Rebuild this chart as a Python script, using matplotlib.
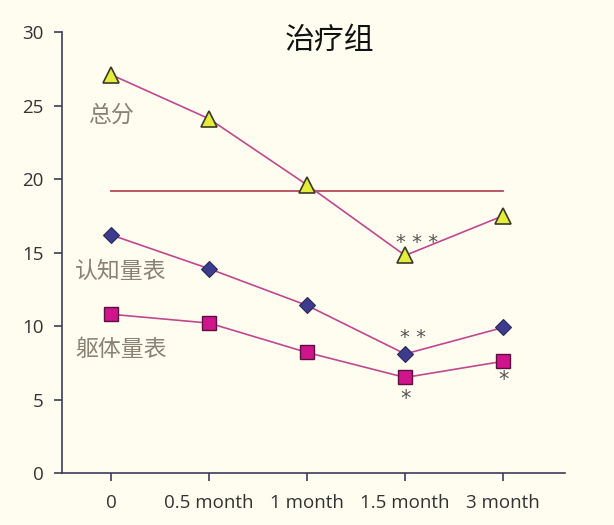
import matplotlib
matplotlib.use("Agg")
import matplotlib.pyplot as plt

plt.rcParams['font.family'] = ['Noto Sans CJK SC', 'DejaVu Sans']

categories = ["0", "0.5 month", "1 month", "1.5 month", "3 month"]
total = [27.1, 24.1, 19.6, 14.8, 17.5]
cognitive = [16.2, 13.9, 11.4, 8.1, 9.9]
somatic = [10.8, 10.2, 8.2, 6.5, 7.6]
ref_level = 19.2
yticks = [0, 5, 10, 15, 20, 25, 30]

bg = "#fefdf0"
fig = plt.figure(figsize=(6.14, 5.25), dpi=100, facecolor=bg)
ax = fig.add_axes([0.101, 0.099, 0.819, 0.840], facecolor=bg)

x = list(range(len(categories)))
line_c = "#c2478f"
ax.plot([0, 4], [ref_level, ref_level], color="#b84a5c", lw=1.3, zorder=2)
ax.plot(x, total, color=line_c, lw=1.2, marker="^", ms=11, mfc="#e4ee3a",
        mec="#3a3a2a", mew=1.2, zorder=3)
ax.plot(x, cognitive, color=line_c, lw=1.2, marker="D", ms=8, mfc="#3d3b8e",
        mec="#2a2a5a", mew=0.8, zorder=3)
ax.plot(x, somatic, color=line_c, lw=1.2, marker="s", ms=9.5, mfc="#d0148c",
        mec="#5a1040", mew=1.0, zorder=3)

ax.set_xlim(-0.5, 4.63)
ax.set_ylim(0, 30)
ax.set_yticks(yticks)
ax.set_xticks(x)
ax.set_xticklabels(categories)
for s in ["top", "right"]:
    ax.spines[s].set_visible(False)
for s in ["left", "bottom"]:
    ax.spines[s].set_color("#3c3c5c")
    ax.spines[s].set_linewidth(1.2)
ax.tick_params(axis="both", colors="#3c3c5c", labelcolor="#333333",
               labelsize=13.5, length=6, width=1.2, direction="out")
for lab in ax.get_xticklabels() + ax.get_yticklabels():
    lab.set_family(["Open Sans", "DejaVu Sans"])
ax.tick_params(axis="x", pad=9)
ax.tick_params(axis="y", pad=7)

ax.text(0.533, 0.982, "治疗组", transform=ax.transAxes, fontsize=21.5,
        color="#111111", ha="center", va="center", fontweight="medium")

lab_c = "#8a8275"
ax.text(0.0, 24.35, "总分", fontsize=16.5, color=lab_c, ha="center", va="center")
ax.text(0.1, 13.7, "认知量表", fontsize=16.5, color=lab_c, ha="center", va="center")
ax.text(0.1, 8.4, "躯体量表", fontsize=16.5, color=lab_c, ha="center", va="center")

star_c = "#555555"
sf = ["DejaVu Sans"]
ax.text(3.12, 15.7, "* * *", fontsize=14, color=star_c, ha="center", va="center", family=sf)
ax.text(3.08, 9.2, "* *", fontsize=14, color=star_c, ha="center", va="center", family=sf)
ax.text(3.0, 5.05, "*", fontsize=15, color=star_c, ha="center", va="center", family=sf)
ax.text(4.0, 6.3, "*", fontsize=15, color=star_c, ha="center", va="center", family=sf)

fig.savefig("out.png", dpi=100, facecolor=bg)
